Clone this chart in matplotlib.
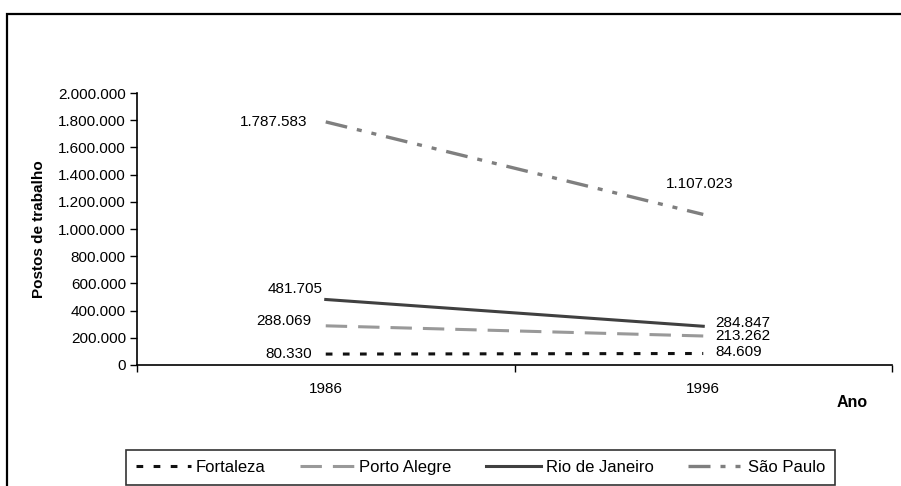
import matplotlib
matplotlib.use('Agg')
import matplotlib.pyplot as plt
from matplotlib.patches import Rectangle

plt.rcParams['font.family'] = ['Liberation Sans', 'DejaVu Sans']

anos = ['1986', '1996']
cidades = ['Fortaleza', 'Porto Alegre', 'Rio de Janeiro', 'São Paulo']
fortaleza = [80330, 84609]
porto_alegre = [288069, 213262]
rio = [481705, 284847]
sao_paulo = [1787583, 1107023]
yticks = list(range(0, 2000001, 200000))


def fmt(v):
    return f'{v:,}'.replace(',', '.')


fig = plt.figure(figsize=(9.01, 4.86), dpi=100)
ax = fig.add_axes([137 / 901, 1 - 365 / 486, (892 - 137) / 901, (365 - 93) / 486])

series = [fortaleza, porto_alegre, rio, sao_paulo]
estilos = [
    dict(color='#111111', lw=2.2, dashes=(2.2, 3.4)),
    dict(color='#999999', lw=2.2, dashes=(7, 3.6)),
    dict(color='#404040', lw=2.2),
    dict(color='#7f7f7f', lw=2.4, dashes=(6.6, 3, 1.5, 3, 1.5, 3)),
]
x = [0, 1]
for nome, vals, st in zip(cidades, series, estilos):
    ax.plot(x, vals, label=nome, **st)

# rotulos de dados
offs_esq = {'Fortaleza': (-10, 0), 'Porto Alegre': (-10, 3.6), 'Rio de Janeiro': (-2, 7.5), 'São Paulo': (-13, 0)}
offs_dir = {'Fortaleza': (8.6, 1), 'Porto Alegre': (8.6, 0), 'Rio de Janeiro': (8.6, 2), 'São Paulo': (-27, 21.6)}
for nome, vals in zip(cidades, series):
    ax.annotate(fmt(vals[0]), (0, vals[0]), xytext=offs_esq[nome], textcoords='offset points',
                ha='right', va='center', fontsize=11)
    ax.annotate(fmt(vals[1]), (1, vals[1]), xytext=offs_dir[nome], textcoords='offset points',
                ha='left', va='center', fontsize=11)

ax.set_xlim(-0.5, 1.5)
ax.set_ylim(0, 2000000)
ax.set_yticks(yticks)
ax.set_yticklabels([fmt(v) for v in yticks], fontsize=11)
ax.set_xticks([-0.5, 0.5, 1.5])
ax.set_xticklabels([])
ax.set_xticks(x, minor=True)
ax.set_xticklabels(anos, minor=True, fontsize=11)
ax.tick_params(axis='x', which='minor', length=0, pad=12)
ax.tick_params(axis='x', which='major', length=5, width=1, direction='out')
ax.tick_params(axis='y', length=5, width=1, direction='out', pad=3)
for s in ['top', 'right']:
    ax.spines[s].set_visible(False)
ax.spines['left'].set_linewidth(1.2)
ax.spines['bottom'].set_linewidth(1.2)
ax.set_ylabel('Postos de trabalho', fontsize=11, fontweight='bold', labelpad=9)
fig.text(852 / 901, 1 - 402 / 486, 'Ano', fontsize=11.5, fontweight='bold', ha='center', va='center')

# moldura externa
fig.patches.append(Rectangle((7 / 901, -0.2), 1.2, 0.2 + 1 - 14 / 486, transform=fig.transFigure,
                             fill=False, lw=1.6, ec='black'))

leg = fig.legend(loc='upper left', bbox_to_anchor=(126 / 901, 1 - 450 / 486), ncol=4,
                 fontsize=12, frameon=True, fancybox=False, edgecolor='black',
                 handlelength=3.3, handletextpad=0.25, columnspacing=2.1,
                 borderpad=0.6, borderaxespad=0)
leg.get_frame().set_linewidth(1.2)

fig.savefig('out.png', dpi=100)
